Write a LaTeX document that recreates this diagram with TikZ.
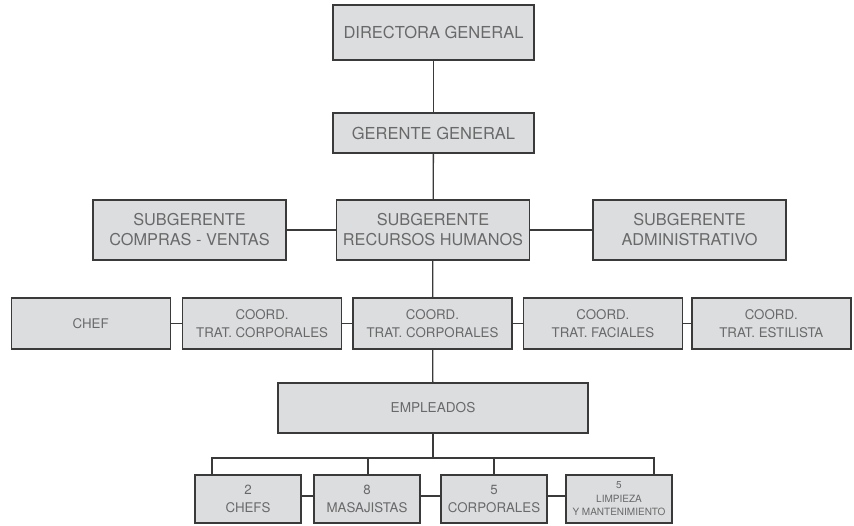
\documentclass[tikz,border=0pt]{standalone}
\usepackage{fontspec}
\setmainfont{TeX Gyre Heros}
\usetikzlibrary{positioning,calc}
\definecolor{cajagris}{HTML}{DCDDDF}
\definecolor{bordegris}{HTML}{3A3A3A}
\definecolor{textogris}{HTML}{696969}
\tikzset{
    caja/.style={rectangle, draw=bordegris, fill=cajagris, line width=1.4pt,
                 text=textogris, align=center, inner sep=0pt},
    grande/.style={caja, minimum width=201pt, font=\fontsize{16.5}{20}\selectfont},
    subger/.style={caja, minimum width=193pt, minimum height=60pt,
                   font=\fontsize{16.3}{20}\selectfont},
    coord/.style={caja, minimum width=159pt, minimum height=51pt,
                  font=\fontsize{13.3}{18}\selectfont},
    equipo/.style={caja, minimum width=106pt, minimum height=48pt,
                   font=\fontsize{13.3}{18}\selectfont},
    linea/.style={draw=bordegris, line width=1.3pt}}

\begin{document}
\begin{tikzpicture}[x=1pt, y=-1pt]
    \useasboundingbox (0,0) rectangle (854,525);

    % direccion
    \node[grande, minimum height=55pt] (directora) at (433.5,32.5) {DIRECTORA GENERAL};
    \node[grande, minimum height=40pt] (gerente) at (433.5,133) {GERENTE GENERAL};

    % subgerencias
    \node[subger] (rrhh) at (433,230) {SUBGERENTE\\RECURSOS HUMANOS};
    \node[subger] (compras) at (189.5,230) {SUBGERENTE\\COMPRAS - VENTAS};
    \node[subger] (admin) at (689.5,230) {SUBGERENTE\\ADMINISTRATIVO};

    % coordinaciones
    \node[coord] (corp2) at (432.5,323.5) {COORD.\\TRAT. CORPORALES};
    \node[coord, left=10pt of corp2] (corp1) {COORD.\\TRAT. CORPORALES};
    \node[coord, left=11pt of corp1] (chef) {CHEF};
    \node[coord, right=10pt of corp2] (faciales) {COORD.\\TRAT. FACIALES};
    \node[coord, right=8pt of faciales] (estilista) {COORD.\\TRAT. ESTILISTA};

    % empleados
    \node[caja, minimum width=310pt, minimum height=50pt,
          font=\fontsize{13.6}{18}\selectfont] (empleados) at (433,408) {EMPLEADOS};

    \node[equipo] (chefs) at (248,499) {2\\CHEFS};
    \node[equipo] (masaj) at (367,499) {8\\MASAJISTAS};
    \node[equipo] (corporales) at (494,499) {5\\CORPORALES};
    \node[equipo, font=\fontsize{10}{13.5}\selectfont] (limpieza) at (619,499)
        {5\\LIMPIEZA\\Y MANTENIMIENTO};

    \coordinate (bus) at (433,458);
    \coordinate (d1) at ([xshift=-36pt]chefs.north);
    \coordinate (d2) at ([xshift=1pt]masaj.north);
    \coordinate (d3) at (corporales.north);
    \coordinate (d4) at ([xshift=35pt]limpieza.north);

    % conectores
    \draw[linea] (directora) -- (gerente);
    \draw[linea] (gerente) -- (rrhh);
    \draw[linea] (compras) -- (rrhh);
    \draw[linea] (rrhh) -- (admin);
    \draw[linea] (rrhh) -- (corp2);
    \draw[linea] (chef) -- (corp1);
    \draw[linea] (corp1) -- (corp2);
    \draw[linea] (corp2) -- (faciales);
    \draw[linea] (faciales) -- (estilista);
    \draw[linea] (corp2) -- (empleados);
    \draw[linea] (empleados) -- (bus);
    \draw[linea] (d1) -- (d1 |- bus) -- (d4 |- bus) -- (d4);
    \draw[linea] (d2) -- (d2 |- bus);
    \draw[linea] (d3) -- (d3 |- bus);
    \draw[linea] ([yshift=3pt]chefs.east) -- ([yshift=3pt]masaj.west);
    \draw[linea] ([yshift=3pt]masaj.east) -- ([yshift=3pt]corporales.west);
    \draw[linea] ([yshift=3pt]corporales.east) -- ([yshift=3pt]limpieza.west);
\end{tikzpicture}
\end{document}
